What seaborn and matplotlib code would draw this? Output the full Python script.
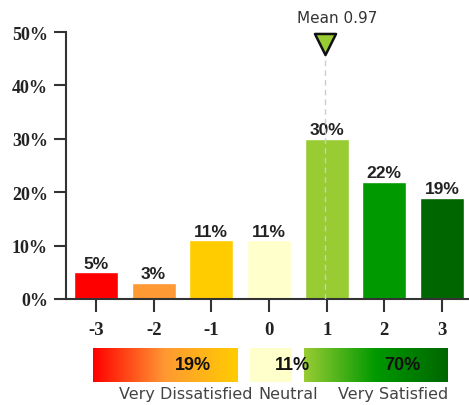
import numpy as np
import pandas as pd
import matplotlib
matplotlib.use("Agg")
import matplotlib.pyplot as plt
import seaborn as sns
from matplotlib.colors import LinearSegmentedColormap
from matplotlib.ticker import FuncFormatter

# data
scores = ['-3', '-2', '-1', '0', '1', '2', '3']
percents = [5, 3, 11, 11, 30, 22, 19]
bar_colors = ['#ff0000', '#ff9933', '#ffcc00', '#ffffcc', '#99cc33', '#009900', '#006600']
mean_value = 0.97
summary_values = [19, 11, 70]
summary_names = ['Very Dissatisfied', 'Neutral', 'Very Satisfied']

df = pd.DataFrame({'score': scores, 'pct': percents})

sns.set_style("white")
W, H = 469, 406
fig = plt.figure(figsize=(W / 100, H / 100), dpi=100)

# main bar axes (pixel layout from the reference)
ax = fig.add_axes([66 / W, (H - 300) / H, (468 - 66) / W, (300 - 33) / H])
sns.barplot(data=df, x='score', y='pct', hue='score', palette=bar_colors,
            legend=False, width=0.76, ax=ax, saturation=1)
ax.set_xlim(-0.52, 6.45)
ax.set_ylim(0, 50)
ax.set_yticks(range(0, 51, 10))
ax.yaxis.set_major_formatter(FuncFormatter(lambda v, p: f'{v:.0f}%'))
ax.set_xlabel('')
ax.set_ylabel('')
for s in ['top', 'right']:
    ax.spines[s].set_visible(False)
for s in ['left', 'bottom']:
    ax.spines[s].set_color('#333333')
    ax.spines[s].set_linewidth(1.5)
ax.tick_params(axis='both', direction='out', length=9, width=1.5, color='#333333',
               left=True, bottom=True)
ax.tick_params(axis='y', labelsize=13, pad=4)
ax.tick_params(axis='x', labelsize=13.5, pad=7)
for lbl in ax.get_xticklabels() + ax.get_yticklabels():
    lbl.set_fontfamily('Liberation Serif')
    lbl.set_fontweight('bold')
    lbl.set_color('#222222')

# value labels on bars
for i, v in enumerate(percents):
    ax.text(i, v + 0.3, f'{v}%', ha='center', va='bottom', fontsize=12.5,
            fontweight='bold', color='#222222', family='Liberation Sans')

# mean marker
mean_x = scores.index('0') + mean_value
ax.plot([mean_x, mean_x], [0, 47], ls=(0, (4, 3)), color='#cccccc', lw=1, zorder=5)
ax.scatter([mean_x], [47.8], marker='v', s=230, color='#99cc33', edgecolor='#111111',
           linewidth=1.8, zorder=6, clip_on=False)
ax.text(mean_x + 0.22, 52.8, f'Mean {mean_value:.2f}', ha='center', va='center',
        fontsize=11, color='#333333', family='DejaVu Sans')

# summary strip
ax2 = fig.add_axes([93 / W, (H - 383) / H, (448 - 93) / W, 34 / H])
ax2.axis('off')
grad = np.linspace(0, 1, 256).reshape(1, -1)
neg_cmap = LinearSegmentedColormap.from_list('neg', ['#ff0000', '#ff9933', '#ffcc00'])
pos_cmap = LinearSegmentedColormap.from_list('pos', ['#99cc33', '#009900', '#006600'])
ax2.imshow(grad, cmap=neg_cmap, extent=[0, 144, 0, 1], aspect='auto')
ax2.fill_between([157, 199], 0, 1, color='#ffffcc', lw=0)
ax2.imshow(grad, cmap=pos_cmap, extent=[211, 355, 0, 1], aspect='auto')
ax2.set_xlim(0, 355)
ax2.set_ylim(0, 1)
label_x = [100, 199, 309]
for x, v in zip(label_x, summary_values):
    ax2.text(x, 0.5, f'{v}%', ha='center', va='center', fontsize=13,
             fontweight='bold', color='#111111', family='Liberation Sans', zorder=5)

name_x = [186, 288, 393]
for x, n in zip(name_x, summary_names):
    fig.text(x / W, 1 - 395 / H, n, ha='center', va='center', fontsize=11.5,
             color='#444444', family='DejaVu Sans')

fig.savefig('out.png', dpi=100)
